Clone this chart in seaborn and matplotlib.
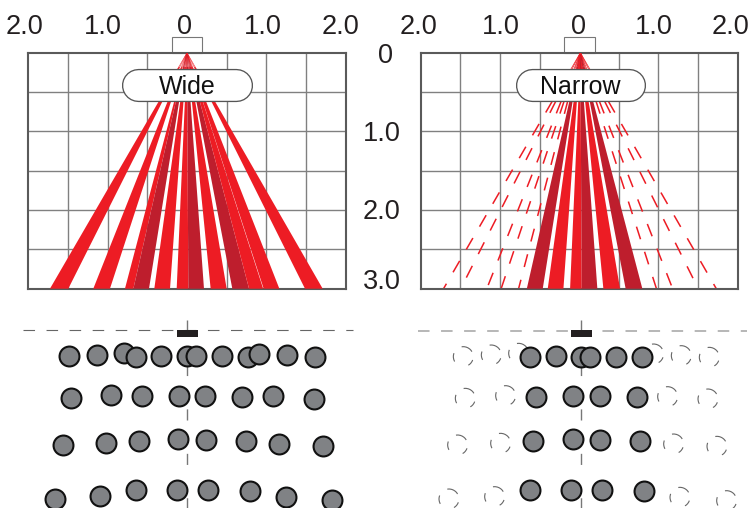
import matplotlib
matplotlib.use("Agg")
import matplotlib.pyplot as plt
from matplotlib.patches import Rectangle
import seaborn as sns

sns.set_theme(style="white")
plt.rcParams["font.family"] = ["Liberation Sans", "DejaVu Sans"]
plt.rcParams["lines.scale_dashes"] = False

RED = "#ED1C24"
DARK = "#BE1E2D"
W, H = 751, 508

# coverage beams: edges at 3.0 m depth
beam_left = [-1.727, -1.181, -0.782, -0.676, -0.412, -0.130, 0.017, 0.298, 0.571, 0.782, 0.966, 1.487]
beam_right = [-1.496, -0.971, -0.676, -0.479, -0.214, 0.017, 0.214, 0.500, 0.782, 0.960, 1.164, 1.710]
beam_tone = ["r", "r", "r", "d", "r", "r", "d", "r", "d", "r", "r", "r"]
# narrow mode
narrow_left = [-0.676, -0.412, -0.130, 0.017, 0.290, 0.571]
narrow_right = [-0.475, -0.214, 0.017, 0.214, 0.500, 0.782]
narrow_tone = ["d", "r", "r", "d", "r", "d"]
off_edges = [-1.727, -1.510, -1.181, -1.000, -0.780, 0.960, 1.164, 1.487, 1.715]

# axis labels
x_labels = ["2.0", "1.0", "0", "1.0", "2.0"]
x_pos_wide = [-2.05, -1.06, -0.03, 0.96, 1.93]
x_pos_narrow = [-2.03, -0.985, -0.01, 0.945, 1.905]
y_labels = ["0", "1.0", "2.0", "3.0"]
y_pos = [0.04, 1.03, 2.02, 2.92]
y_label_x = [2.497, 2.452, 2.452, 2.452]

# floor-plan dots, offset from sensor
row1_x = [-354, -270, -188, -153, -77, 0, 27, 104, 182, 217, 300, 384]
row1_y = [78, 73, 68, 79, 76, 78, 78, 78, 79, 70, 75, 80]
row2_x = [-348, -227, -136, -24, 55, 166, 259, 380]
row2_y = [203, 195, 198, 197, 197, 199, 198, 205]
row3_x = [-371, -242, -145, -26, 57, 177, 277, 407]
row3_y = [343, 338, 331, 326, 329, 331, 340, 347]
row4_x = [-397, -260, -154, -30, 62, 189, 296, 436]
row4_y = [505, 498, 479, 478, 478, 481, 500, 510]
row1_active = [3, 4, 5, 6, 7, 8]
rows_active = [2, 3, 4, 5]


def make_axes(x0, x1, y0, y1):
    return fig.add_axes([x0 / W, 1 - y1 / H, (x1 - x0) / W, (y1 - y0) / H])


def draw_panel(ax, name, apex, left, right, tone, label_x, fan_lw):
    ax.set_xlim(-2, 2)
    ax.set_ylim(3, 0)
    ax.set_xticks([-1.5, -1, -0.5, 0.5, 1, 1.5])
    ax.set_yticks([0.5, 1, 1.5, 2, 2.5])
    ax.tick_params(length=0, labelbottom=False, labelleft=False)
    ax.grid(True, color="#808080", lw=1.0)
    ax.set_axisbelow(True)
    for s in ax.spines.values():
        s.set_color("#5a5a5a")
        s.set_linewidth(1.5)
        s.set_visible(True)
    for a, b, t in zip(left, right, tone):
        c = RED if t == "r" else DARK
        ax.fill([apex + a * 0.06, apex + a, apex + b, apex + b * 0.06], [0.18, 3, 3, 0.18], color=c, lw=0, zorder=3)
        for e in (a, b):
            ax.plot([apex, apex + e * 0.07], [0, 0.21], color=c, lw=fan_lw, zorder=3)
    ax.add_patch(Rectangle((-0.195, -0.203), 0.39, 0.203, fc="none", ec="#777777", lw=0.8, clip_on=False))
    ax.plot([apex - 0.615, apex + 0.615], [0.415, 0.415], color="#555555", lw=23.9, solid_capstyle="round", zorder=5)
    ax.plot([apex - 0.615, apex + 0.615], [0.415, 0.415], color="white", lw=22.0, solid_capstyle="round", zorder=5.5)
    ax.text(apex, 0.44, name, ha="center", va="center", fontsize=18, color="#111111", zorder=6)
    for x, s in zip(label_x, x_labels):
        ax.text(x, -0.33, s, ha="center", va="center", fontsize=19.5, color="#231F20", clip_on=False)


def draw_floor(ax, hline_color, hline_lw, mode):
    ax.set_xlim(-561, 564)
    ax.set_ylim(533, -31)
    ax.axis("off")
    ax.plot([-491, 497], [0, 0], color=hline_color, lw=hline_lw, ls=(0, (8.3, 8.3)), zorder=1)
    ax.plot([0, 0], [-31, 533], color="#777777", lw=1.0, ls=(0, (8, 24)), zorder=1)
    ax.add_patch(Rectangle((-30, -1), 63, 21, fc="#231F20", ec="none", zorder=2))
    rows = [(row1_x, row1_y, row1_active), (row2_x, row2_y, rows_active),
            (row3_x, row3_y, rows_active), (row4_x, row4_y, rows_active)]
    for xs, ys, active in rows:
        if mode == "wide":
            on = list(range(len(xs)))
        else:
            on = active
            off = [i for i in range(len(xs)) if i not in active]
            sns.scatterplot(x=[xs[i] for i in off], y=[ys[i] for i in off], s=205, facecolor="none",
                            edgecolor="#666666", linewidth=0.8,
                            linestyle=(41.0, (5, 6.2, 8.7, 7.5, 6.2, 11.2)), ax=ax, zorder=3,
                            clip_on=False)
        sns.scatterplot(x=[xs[i] for i in on], y=[ys[i] for i in on], s=205, color="#808285",
                        edgecolor="#111111", linewidth=1.5, ax=ax, zorder=4, clip_on=False)


fig = plt.figure(figsize=(W / 100, H / 100), dpi=100)
fig.patch.set_facecolor("white")

ax1 = make_axes(28.3, 345.7, 52.7, 288.7)
draw_panel(ax1, "Wide", 0.0, beam_left, beam_right, beam_tone, x_pos_wide, 0.35)
ax2 = make_axes(420.7, 737.7, 52.7, 288.7)
draw_panel(ax2, "Narrow", 0.015, narrow_left, narrow_right, narrow_tone, x_pos_narrow, 0.7)
for e in off_edges:
    ax2.plot([0.015 + e * 0.205, 0.015 + e], [0.615, 3], color=RED, lw=1.1, ls=(0, (9.5, 9.5)), zorder=2)
    ax2.plot([0.015, 0.015 + e * 0.07], [0, 0.21], color=RED, lw=0.5, zorder=3)
for x, y, s in zip(y_label_x, y_pos, y_labels):
    ax1.text(x, y, s, ha="center", va="center", fontsize=19.5, color="#231F20", clip_on=False)

ax3 = make_axes(0, 375, 320, 508)
draw_floor(ax3, "#666666", 0.8, "wide")
ax4 = make_axes(394.3, 769.3, 320.3, 508.3)
draw_floor(ax4, "#aaaaaa", 1.2, "narrow")

fig.savefig("out.png", dpi=100)
